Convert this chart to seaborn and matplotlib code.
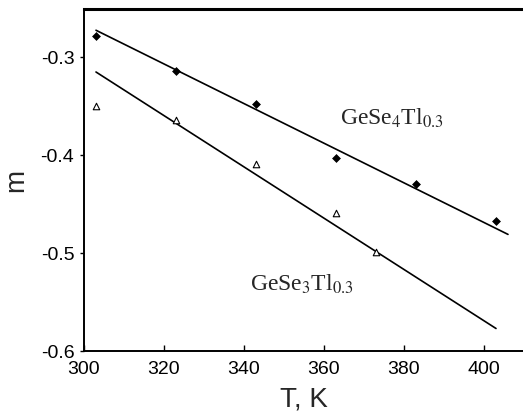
import numpy as np
import pandas as pd
import matplotlib
matplotlib.use("Agg")
import matplotlib.pyplot as plt
import seaborn as sns

# Data
T_se4 = [303, 323, 343, 363, 383, 403]
m_se4 = [-0.279, -0.314, -0.348, -0.403, -0.430, -0.467]
T_se3 = [303, 323, 343, 363, 373]
m_se3 = [-0.350, -0.364, -0.409, -0.459, -0.499]

# fitted straight lines (endpoints)
fit_T_se4 = [303, 406]
fit_m_se4 = [-0.2727, -0.481]
fit_T_se3 = [303, 403]
fit_m_se3 = [-0.3153, -0.577]

xticks = [300, 320, 340, 360, 380, 400]
yticks = [-0.6, -0.5, -0.4, -0.3]

sns.set_theme(style="ticks")
plt.rcParams['font.family'] = ['Liberation Sans', 'DejaVu Sans']
plt.rcParams['mathtext.fontset'] = 'stix'

fig = plt.figure(figsize=(5.23, 4.16), dpi=100)
ax = fig.add_axes([0.1606, 0.1562, 0.8394, 0.8222])

df4 = pd.DataFrame({"T": T_se4, "m": m_se4})
df3 = pd.DataFrame({"T": T_se3, "m": m_se3})
f4 = pd.DataFrame({"T": fit_T_se4, "m": fit_m_se4})
f3 = pd.DataFrame({"T": fit_T_se3, "m": fit_m_se3})

sns.lineplot(data=f4, x="T", y="m", ax=ax, color="black", linewidth=1.2)
sns.lineplot(data=f3, x="T", y="m", ax=ax, color="black", linewidth=1.2)
sns.scatterplot(data=df4, x="T", y="m", ax=ax, marker="D", s=16,
                color="black", edgecolor="black", linewidth=0.5, zorder=3)
sns.scatterplot(data=df3, x="T", y="m", ax=ax, marker="^", s=22,
                facecolor="white", edgecolor="black", linewidth=0.8, zorder=3)

ax.set_xlim(300, 409.75)
ax.set_ylim(-0.6, -0.251)
ax.set_xticks(xticks)
ax.set_xticklabels([str(v) for v in xticks])
ax.set_yticks(yticks)
ax.set_yticklabels([f"{v:.1f}" for v in yticks])
ax.tick_params(axis="x", direction="in", length=4, width=1, labelsize=14, pad=7, colors="black")
ax.tick_params(axis="y", direction="out", length=3, width=1, labelsize=14, pad=4, colors="black")
for s in ax.spines.values():
    s.set_linewidth(1.4)
    s.set_color("black")
ax.spines["top"].set_linewidth(2.2)
ax.spines["right"].set_visible(False)

ax.set_xlabel("T, K", fontsize=20, labelpad=6)
ax.set_ylabel("m", fontsize=20, labelpad=8)

ax.text(364, -0.369, r"GeSe$_4$Tl$_{0.3}$", fontsize=17,
        family="Liberation Serif", ha="left", va="baseline")
ax.text(341.5, -0.5385, r"GeSe$_3$Tl$_{0.3}$", fontsize=17,
        family="Liberation Serif", ha="left", va="baseline")

fig.savefig("out.png", dpi=100)
